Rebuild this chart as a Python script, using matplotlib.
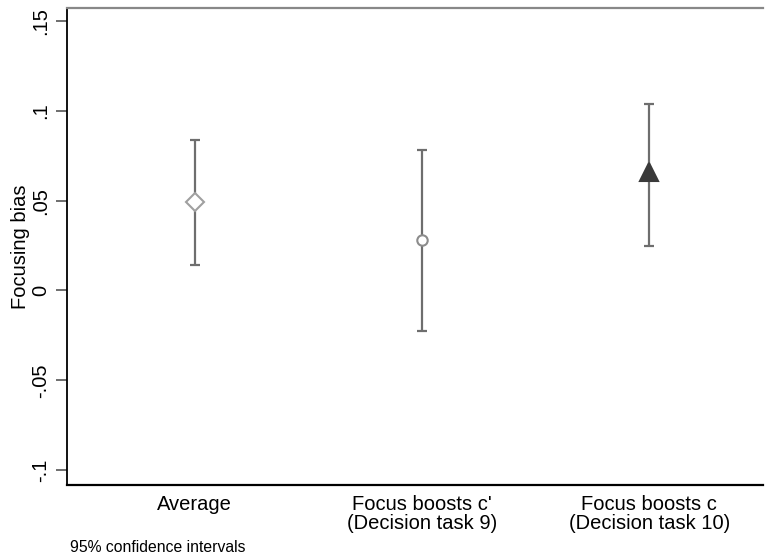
import matplotlib
matplotlib.use("Agg")
import matplotlib.pyplot as plt

plt.rcParams['font.family'] = ['Liberation Sans', 'DejaVu Sans']

categories = ["Average", "Focus boosts c'\n(Decision task 9)", "Focus boosts c\n(Decision task 10)"]
estimates = [0.049, 0.0278, 0.066]
ci_low = [0.0144, -0.0228, 0.025]
ci_high = [0.0839, 0.0783, 0.104]
yticks = [-0.1, -0.05, 0, 0.05, 0.1, 0.15]
ytick_labels = ["-.1", "-.05", "0", ".05", ".1", ".15"]

markers = ['D', 'o', '^']
face = ['white', 'white', '#3a3a3a']
edge = ['#a0a0a0', '#8c8c8c', '#3a3a3a']
msize = [9.5, 7.5, 13]

fig = plt.figure(figsize=(7.65, 5.59), dpi=100)
ax = fig.add_axes([67/765, 1 - 485/559, 1 - 67/765 - 2/765, (485 - 8)/559])

xs = [1, 2, 3]
for i, x in enumerate(xs):
    ax.errorbar([x], [estimates[i]],
                yerr=[[estimates[i] - ci_low[i]], [ci_high[i] - estimates[i]]],
                fmt='none', ecolor='#6e6e6e', elinewidth=1.6, capsize=3.8, capthick=1.6, zorder=2)
    ax.plot([x], [estimates[i]], marker=markers[i], markersize=msize[i],
            markerfacecolor=face[i], markeredgecolor=edge[i], markeredgewidth=1.5,
            linestyle='none', zorder=3)

ax.set_xlim(0.439, 3.5)
ax.set_ylim(-0.1083, 0.1572)
ax.set_yticks(yticks)
ax.set_yticklabels(ytick_labels, rotation=90, va='center', fontsize=14.5)
ax.set_xticks(xs)
ax.set_xticklabels(categories, fontsize=14.5, linespacing=1.0)
ax.tick_params(axis='x', length=0, pad=7)
ax.tick_params(axis='y', length=8, width=1.2, color='#555555', pad=4)
ax.set_ylabel("Focusing bias", fontsize=14.5, labelpad=1)

ax.spines['right'].set_visible(False)
ax.spines['top'].set_color('#888888')
ax.spines['top'].set_linewidth(1.6)
ax.spines['left'].set_color('black')
ax.spines['left'].set_linewidth(1.3)
ax.spines['bottom'].set_color('black')
ax.spines['bottom'].set_linewidth(1.6)

fig.text(70/765, 1 - 547/559, "95% confidence intervals", fontsize=11.3, va='center', ha='left')

fig.savefig("out.png", dpi=100)
